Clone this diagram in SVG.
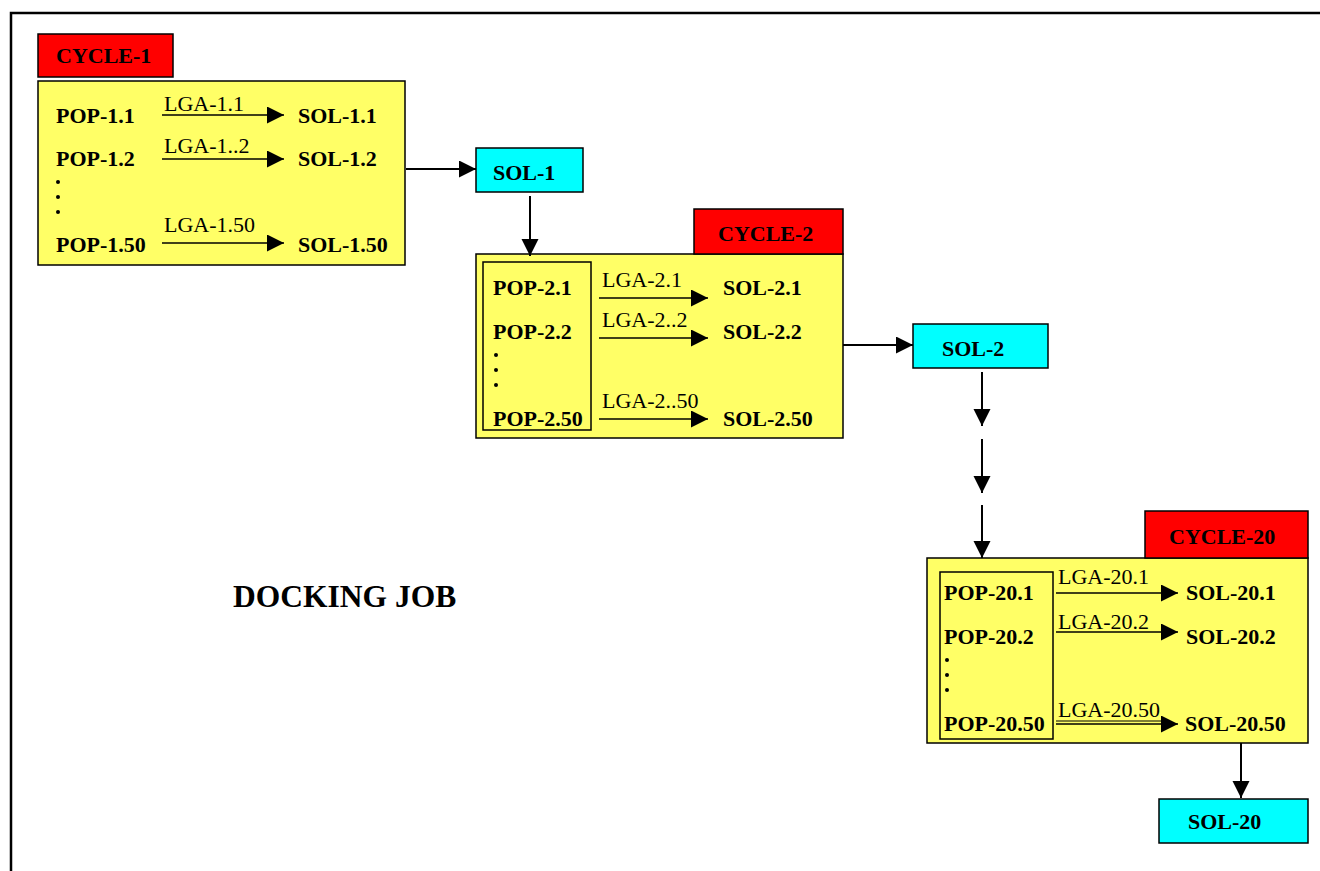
<svg xmlns="http://www.w3.org/2000/svg" width="1320" height="871" viewBox="0 0 1320 871">
<defs>
<marker id="ah" markerUnits="userSpaceOnUse" markerWidth="18" markerHeight="18" refX="17" refY="8.5" orient="auto"><path d="M0,0 L17,8.5 L0,17 z" fill="#000"/></marker>
<style>
.b{font-family:"Liberation Serif","Times New Roman",serif;font-weight:bold;font-size:22px;fill:#000}
.r{font-family:"Liberation Serif","Times New Roman",serif;font-size:22px;fill:#000}
.y{fill:#FFFF66;stroke:#000;stroke-width:1.5}
.red{fill:#FF0000;stroke:#000;stroke-width:1.5}
.cy{fill:#00FFFF;stroke:#000;stroke-width:1.5}
.in{fill:none;stroke:#000;stroke-width:1.5}
.a{stroke:#000;stroke-width:2;fill:none;marker-end:url(#ah)}
.ia{stroke:#000;stroke-width:1.5;fill:none;marker-end:url(#ah)}
</style>
</defs>
<rect width="1320" height="871" fill="#fff"/>
<path d="M11,871 L11,13 L1320,13" fill="none" stroke="#000" stroke-width="2.5"/>

<g id="cycle1">
<rect class="red" x="38" y="34" width="135" height="43"/>
<text class="b" x="56" y="63">CYCLE-1</text>
<rect class="y" x="38" y="81" width="367" height="184"/>
<text class="b" x="56" y="123">POP-1.1</text>
<text class="r" x="164" y="111">LGA-1.1</text>
<line class="ia" x1="162" y1="115" x2="284" y2="115"/>
<text class="b" x="298" y="123">SOL-1.1</text>
<text class="b" x="56" y="166">POP-1.2</text>
<text class="r" x="164" y="153">LGA-1..2</text>
<line class="ia" x1="162" y1="159" x2="284" y2="159"/>
<text class="b" x="298" y="166">SOL-1.2</text>
<circle cx="58" cy="182" r="2"/><circle cx="58" cy="197" r="2"/><circle cx="58" cy="212" r="2"/>
<text class="b" x="56" y="252">POP-1.50</text>
<text class="r" x="164" y="232">LGA-1.50</text>
<line class="ia" x1="162" y1="243" x2="284" y2="243"/>
<text class="b" x="298" y="252">SOL-1.50</text>
</g>

<g id="sol1">
<rect class="cy" x="476" y="148" width="107" height="44"/>
<text class="b" x="493" y="180">SOL-1</text>
</g>

<g id="cycle2">
<rect class="y" x="476" y="254" width="367" height="184"/>
<rect class="red" x="694" y="209" width="149" height="45"/>
<text class="b" x="718" y="241">CYCLE-2</text>
<rect class="in" x="483" y="262" width="108" height="168"/>
<text class="b" x="493" y="295">POP-2.1</text>
<text class="r" x="602" y="287">LGA-2.1</text>
<line class="ia" x1="599" y1="298" x2="708" y2="298"/>
<text class="b" x="723" y="295">SOL-2.1</text>
<text class="b" x="493" y="339">POP-2.2</text>
<text class="r" x="602" y="327">LGA-2..2</text>
<line class="ia" x1="599" y1="338" x2="708" y2="338"/>
<text class="b" x="723" y="339">SOL-2.2</text>
<circle cx="496" cy="355" r="2"/><circle cx="496" cy="370" r="2"/><circle cx="496" cy="385" r="2"/>
<text class="b" x="493" y="426">POP-2.50</text>
<text class="r" x="602" y="408">LGA-2..50</text>
<line class="ia" x1="599" y1="419" x2="708" y2="419"/>
<text class="b" x="723" y="426">SOL-2.50</text>
</g>

<g id="sol2">
<rect class="cy" x="913" y="324" width="135" height="44"/>
<text class="b" x="942" y="356">SOL-2</text>
</g>

<g id="cycle20">
<rect class="y" x="927" y="558" width="381" height="185"/>
<rect class="red" x="1145" y="511" width="163" height="47"/>
<text class="b" x="1169" y="544">CYCLE-20</text>
<rect class="in" x="940" y="572" width="113" height="167"/>
<text class="b" x="944" y="600">POP-20.1</text>
<text class="r" x="1058" y="584">LGA-20.1</text>
<line class="ia" x1="1056" y1="593" x2="1178" y2="593"/>
<text class="b" x="1186" y="600">SOL-20.1</text>
<text class="b" x="944" y="644">POP-20.2</text>
<text class="r" x="1058" y="629">LGA-20.2</text>
<line class="ia" x1="1056" y1="632" x2="1178" y2="632"/>
<text class="b" x="1186" y="644">SOL-20.2</text>
<circle cx="947" cy="660" r="2"/><circle cx="947" cy="675" r="2"/><circle cx="947" cy="690" r="2"/>
<text class="b" x="944" y="731">POP-20.50</text>
<text class="r" x="1058" y="717">LGA-20.50</text>
<line x1="1056" y1="721" x2="1170" y2="721" stroke="#000" stroke-width="1"/>
<line class="ia" x1="1056" y1="724" x2="1178" y2="724"/>
<text class="b" x="1185" y="731">SOL-20.50</text>
</g>

<g id="sol20">
<rect class="cy" x="1159" y="799" width="149" height="44"/>
<text class="b" x="1188" y="829">SOL-20</text>
</g>

<g id="title">
<text class="b" style="font-size:31.5px" x="233" y="607">DOCKING JOB</text>
</g>

<g id="connectors">
<line class="a" x1="406" y1="169" x2="476" y2="169"/>
<line class="a" x1="530" y1="196" x2="530" y2="256"/>
<line class="a" x1="843" y1="345" x2="913" y2="345"/>
<line class="a" x1="982" y1="372" x2="982" y2="426"/>
<line class="a" x1="982" y1="439" x2="982" y2="493"/>
<line class="a" x1="982" y1="505" x2="982" y2="558"/>
<line class="a" x1="1241" y1="743" x2="1241" y2="798"/>
</g>
</svg>
